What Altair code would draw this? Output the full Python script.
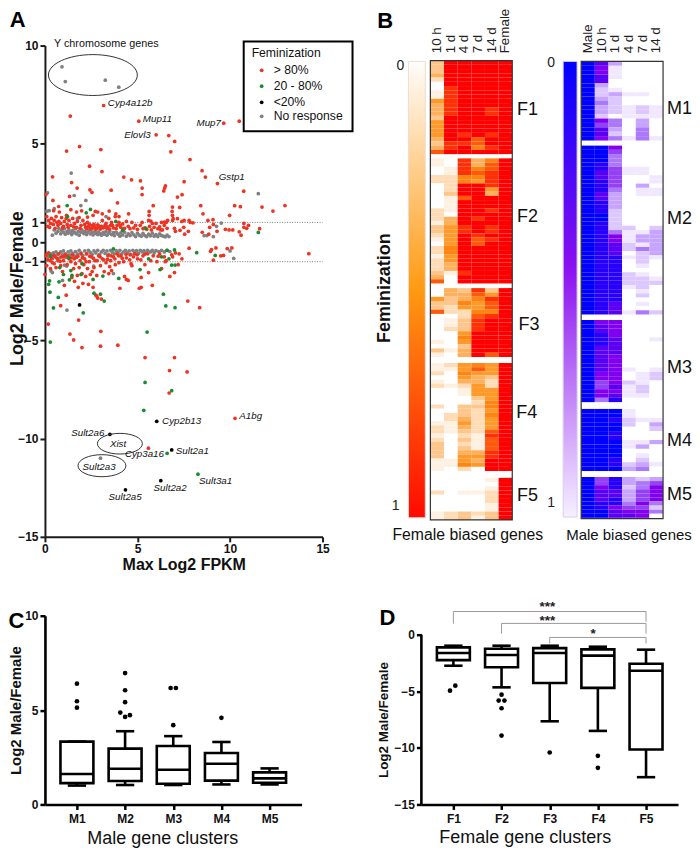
import altair as alt
import pandas as pd

FONT = "Liberation Sans"
AXC = "#1c1c1c"

# ---------- Panel A data (Max Log2 FPKM, Log2 Male/Female) ----------
gray_pts = [(0.92,8.92),(1.10,8.17),(3.26,8.24),(3.99,7.88),(1.42,3.51),(0.14,2.51),(1.58,2.37),(2.21,2.12),(1.94,1.86),(0.5,1.7),(0.1,1.57),(0.23,1.6),(11.53,2.46),(9.53,0.97),(9.27,0.8),(8.6,0.33),(8.75,0.33),(9.1,0.28),(1.75,1.2),(3.3,1.3),(1.19,-3.46),(3.0,-11.0),(0.95,-1.95),(0.33,-1.47),(0.4,-1.55),(1.05,-1.17),(1.17,-1.22),(2.63,-1.22),(3.7,-1.6),(10.2,-0.83),(10.0,-0.45),
 (0.4,0.35),(0.5,0.62),(0.6,0.45),(0.7,0.55),(0.75,0.7),(0.85,0.42),(0.9,0.6),(1.0,0.5),(1.05,0.68),(1.1,0.4),(1.2,0.55),(1.25,0.45),(1.3,0.62),(1.4,0.5),(1.45,0.38),(1.5,0.6),(1.6,0.48),(1.65,0.68),(1.7,0.42),(1.8,0.55),(1.85,0.35),(1.95,0.5),(2.0,0.62),(2.1,0.43),(2.15,0.55),(2.25,0.38),(2.3,0.5),(2.4,0.6),(2.45,0.42),(2.55,0.5),(2.6,0.36),(2.7,0.55),(2.75,0.44),(2.85,0.38),(2.9,0.52),(3.0,0.42),(3.05,0.35),(3.15,0.5),(3.2,0.4),(3.3,0.55),(3.35,0.35),(3.45,0.45),(3.5,0.55),(3.6,0.38),(3.7,0.48),(3.75,0.33),(3.85,0.5),(3.95,0.4),(4.05,0.3),(4.1,0.47),(4.2,0.36),(4.3,0.5),(4.4,0.3),(4.5,0.42),(4.6,0.33),(4.7,0.48),(4.8,0.37),(4.9,0.28),(5.0,0.45),(5.1,0.35),(5.2,0.3),(5.3,0.44),(5.4,0.33),(5.5,0.28),(5.6,0.4),(5.7,0.32),(5.8,0.45),(5.9,0.3),(6.0,0.38),(6.1,0.28),(6.2,0.42),(6.3,0.33),(6.4,0.3),(6.5,0.27),(6.6,0.35),(6.7,0.28),
 (0.2,-0.75),(0.3,-0.6),(0.4,-0.85),(0.45,-0.55),(0.55,-0.7),(0.6,-0.5),(0.7,-0.62),(0.8,-0.8),(0.85,-0.5),(0.95,-0.65),(1.0,-0.45),(1.1,-0.6),(1.15,-0.78),(1.25,-0.5),(1.35,-0.65),(1.4,-0.45),(1.5,-0.58),(1.6,-0.72),(1.65,-0.48),(1.75,-0.6),(1.85,-0.42),(1.95,-0.55),(2.05,-0.68),(2.15,-0.45),(2.25,-0.6),(2.35,-0.42),(2.45,-0.52),(2.55,-0.62),(2.65,-0.45),(2.75,-0.55),(2.85,-0.42),(2.95,-0.62),(3.05,-0.5),(3.15,-0.42),(3.25,-0.58),(3.35,-0.45),(3.45,-0.62),(3.55,-0.42),(3.65,-0.52),(3.75,-0.6),(3.85,-0.44),(3.95,-0.55),(4.05,-0.42),(4.15,-0.6),(4.25,-0.5),(4.35,-0.42),(4.45,-0.55),(4.55,-0.45),(4.65,-0.62),(4.75,-0.42),(4.85,-0.52),(4.95,-0.44),(5.05,-0.58),(5.15,-0.42),(5.25,-0.5),(5.35,-0.44),(5.45,-0.55),(5.55,-0.42),(5.7,-0.5),(5.8,-0.42),(5.9,-0.55),(6.0,-0.44),(6.15,-0.48),(6.3,-0.42),(6.45,-0.5),(6.6,-0.42),(6.75,-0.48)]

red_pts = [(3.17,6.95),(1.37,6.41),(5.07,6.15),(9.66,6.05),(10.5,6.15),(6.01,5.46),(6.69,5.42),(7.01,5.12),(1.17,4.63),(1.87,4.86),(3.02,4.71),(6.80,4.59),(7.84,4.20),(2.41,3.86),(3.08,3.59),(8.49,3.63),(8.67,3.31),(0.41,3.32),(4.26,3.31),(4.68,3.17),(5.16,3.12),(1.44,3.03),(7.52,3.07),(9.32,2.98),(1.74,2.75),(2.43,2.66),(2.54,2.53),(3.58,2.64),(5.25,2.75),(5.25,2.42),(6.51,2.86),(6.47,2.75),(6.42,2.6),(10.74,2.59),(7.41,2.41),(7.16,2.29),(0.05,2.42),(1.33,2.32),(0.43,2.12),(0.74,1.81),(3.92,2.0),(5.85,1.85),(8.42,1.85),(10.25,1.85),(10.56,1.80),(11.73,1.78),(12.97,1.86),(12.32,1.58),(6.89,1.78),(7.28,1.76),(6.87,1.56),(5.63,1.56),(8.54,1.44),(9.98,1.36),(1.71,1.53),(1.98,1.59),(1.4,1.65),(2.72,1.56),(2.85,1.53),(3.1,1.44),(3.47,1.58),(3.83,1.44),(4.0,1.3),(4.52,1.44),(0.47,1.6),(0.78,1.53),(1.17,1.36),(2.3,1.27),(2.6,1.36),(5.63,1.36),(5.72,1.07),(6.89,1.36),(6.93,1.19),(6.45,1.02),(6.63,1.1),(7.16,1.19),(7.52,1.1),(7.79,1.1),(8.81,1.1),(9.08,1.14),
 (0.1,1.3),(0.2,1.1),(0.3,0.95),(0.15,0.8),(0.35,1.2),(0.45,0.9),(0.5,1.1),(0.6,1.3),(0.55,0.7),(0.7,0.85),(0.75,1.05),(0.85,0.95),(0.9,1.25),(1.0,0.8),(1.05,1.05),(1.15,1.2),(1.2,0.9),(1.3,1.1),(1.4,0.85),(1.5,1.2),(1.6,0.95),(1.7,0.75),(1.75,1.05),(1.85,1.25),(1.95,0.85),(2.05,1.1),(2.15,0.9),(2.2,0.75),(2.3,1.0),(2.35,0.8),(2.45,0.7),(2.55,0.85),(2.6,0.72),(2.7,0.78),(2.8,0.7),(2.85,0.88),(2.95,0.72),(3.05,0.8),(3.1,1.1),(3.2,0.75),(3.3,0.95),(3.35,0.7),(3.45,1.2),(3.55,0.85),(3.6,1.0),(3.7,0.72),(3.8,1.3),(3.9,0.85),(4.0,1.0),(4.1,0.75),(4.2,0.92),(4.3,0.7),(4.4,1.05),(4.5,0.8),(4.7,1.0),(4.8,0.72),(5.0,0.65),(5.15,0.85),(5.25,1.0),(5.4,0.72),(5.5,0.65),(5.6,1.1),(5.65,0.8),(5.75,0.62),(5.9,0.75),(6.0,0.95),(6.1,0.68),(6.2,0.78),(6.3,1.0),(6.35,0.62),(6.45,0.85),(6.55,1.0),(6.6,0.7),(6.9,1.1),(7.0,0.7),(7.05,0.55),(7.3,0.6),(7.5,0.75),(7.55,0.4),(7.4,1.05),(7.75,0.55),(7.85,1.0),(8.5,0.5),(8.85,0.4),(8.9,0.75),(9.75,0.65),(9.95,0.62),(10.15,0.62),(10.5,0.52),(10.6,0.35),(10.75,0.95),(10.75,0.75),(11.0,0.85),(10.9,0.7),(11.6,0.68),(9.1,0.9),(9.3,0.55),(8.0,0.98),
 (0.25,0.75),(0.65,1.0),(0.95,0.72),(1.25,0.75),(1.55,0.78),(1.9,0.7),(2.25,0.68),(2.4,0.9),(2.5,0.66),(2.65,0.9),(2.75,0.66),(2.9,0.82),(3.0,0.66),(3.12,0.72),(3.25,0.85),(3.4,0.78),(3.5,0.66),(3.65,0.85),(3.85,0.68),(4.05,0.85),(4.25,0.66),(4.6,0.68),(4.9,0.85),(5.3,0.68),(5.8,0.95),(6.25,0.62),
 (14.26,-0.59),(7.79,-0.31),(8.95,-0.47),(9.0,-0.38),(9.24,-0.3),(9.1,-0.92),(9.5,-0.7),(9.65,-0.68),(9.85,-0.33),(10.1,-0.3),(7.25,-0.6),(7.4,-0.85),(6.9,-0.75),(7.05,-0.55),
 (0.0,-1.64),(0.05,-0.7),(0.1,-1.2),(0.15,-0.9),(0.2,-0.55),(0.3,-1.35),(0.35,-0.8),(0.4,-1.05),(0.5,-1.1),(0.55,-0.75),(0.6,-1.3),(0.7,-0.95),(0.75,-0.6),(0.85,-1.2),(0.9,-0.75),(0.95,-1.5),(1.0,-0.95),(1.05,-2.2),(1.1,-0.65),(1.2,-1.15),(1.3,-0.85),(1.4,-1.0),(1.45,-1.8),(1.5,-0.65),(1.55,-1.35),(1.6,-2.0),(1.65,-1.1),(1.7,-0.78),(1.75,-1.7),(1.8,-2.3),(1.85,-1.3),(1.9,-0.95),(1.95,-0.6),(2.0,-1.6),(2.05,-2.1),(2.1,-1.15),(2.15,-0.85),(2.2,-1.75),(2.25,-0.6),(2.3,-1.35),(2.35,-2.15),(2.4,-1.0),(2.45,-1.65),(2.5,-0.75),(2.55,-1.5),(2.6,-2.3),(2.65,-1.3),(2.7,-0.95),(2.75,-2.7),(2.8,-1.7),(2.85,-2.85),(2.9,-0.7),(3.0,-1.2),(3.05,-2.9),(3.1,-0.85),(3.2,-1.5),(3.3,-1.05),(3.4,-0.7),(3.45,-1.6),(3.5,-1.25),(3.55,-0.95),(3.6,-1.45),(3.7,-0.75),(3.8,-1.15),(3.9,-0.6),(4.0,-1.05),(4.05,-2.35),(4.1,-0.7),(4.25,-1.0),(4.3,-1.75),(4.4,-0.8),(4.4,-1.9),(4.5,-1.95),(4.6,-0.65),(4.65,-1.1),(4.7,-1.2),(4.85,-0.6),(5.0,-0.85),(5.1,-2.35),(5.2,-2.3),(5.2,-1.8),(5.3,-0.7),(5.4,-1.15),(5.55,-0.6),(5.6,-1.55),(5.8,-2.2),(5.85,-0.7),(6.05,-1.0),(6.2,-0.6),(6.3,-1.35),(6.45,-0.75),(6.55,-0.95),(6.75,-1.75),(7.0,-1.55),(7.2,-1.15),(6.85,-0.65),(6.5,-1.0),
 (0.12,-0.6),(0.28,-0.95),(0.48,-0.68),(0.65,-0.82),(0.82,-0.98),(1.02,-0.75),(1.22,-0.7),(1.42,-0.8),(1.58,-0.85),(1.78,-0.72),(2.02,-0.8),(2.22,-1.0),(2.42,-0.72),(2.62,-0.82),(2.82,-0.95),(2.98,-0.75),(3.18,-0.9),(3.38,-0.88),(3.58,-0.7),(3.78,-0.85),(3.98,-0.7),(4.18,-0.82),(4.38,-0.62),(4.58,-0.9),(4.78,-0.75),(4.98,-0.65),(5.18,-0.9),(5.38,-0.62),(5.72,-0.95),(6.12,-0.72),
 (0.18,-4.17),(1.35,-4.68),(1.55,-4.98),(3.02,-4.54),(3.0,-5.3),(2.0,-5.37),(3.94,-5.25),(1.82,-3.97),(0.85,-3.24),(7.72,-3.0),(8.36,-3.34),(5.41,-5.88),(7.0,-5.88),(6.73,-6.54),(7.68,-6.61),(6.71,-7.68),(10.27,-8.97),(5.59,-10.49),(1.15,-2.7),(2.8,-2.75)]

green_pts = [(1.2,1.86),(2.23,1.49),(2.46,1.66),(3.83,1.05),(1.22,1.3),(5.45,0.7),(4.2,0.6),(11.53,0.49),(1.3,-0.8),
 (8.2,-0.54),(9.2,-0.68),(7.0,-0.4),(6.7,-0.85),(0.2,-2.15),(0.25,-1.97),(0.27,-2.55),(0.46,-3.35),(0.72,-2.82),(0.76,-2.02),(1.32,-1.92),(1.46,-1.7),(1.95,-1.65),(2.6,-1.9),(2.65,-2.6),(3.0,-2.65),(3.2,-3.0),(2.07,-3.6),(0.29,-5.09),(5.52,-4.58),(6.4,-2.65),(6.53,-3.25),(7.03,-3.34),(5.41,-7.14),(6.85,-7.56),(5.34,-8.56),(6.6,-10.75),(8.27,-11.81),(3.99,-1.85),(3.13,-1.73),(5.14,-1.4),(6.22,-1.4),(6.85,-1.17),(7.03,-1.17),(0.3,-0.7),(0.8,-1.3),(1.0,-1.65),(2.0,-1.1),(1.4,-1.45),(3.7,-0.35),(6.6,-0.42),(6.3,-0.75),(5.6,-0.85)]

black_pts = [(1.87,-3.2),(6.04,-9.12),(3.51,-9.78),(6.85,-10.58),(6.26,-12.14),(4.35,-12.61)]

legend_names = ["> 80%", "20 - 80%", "<20%", "No response"]
legend_colors = ["#ee3322", "#1a8c2e", "#000000", "#808080"]
legend_y = [8.74, 7.93, 7.11, 6.40]

gene_labels = ["Cyp4a12b","Mup11","Elovl3","Mup7","Gstp1","A1bg","Cyp2b13","Sult2a6","Xist","Sult2a1","Cyp3a16","Sult2a3","Sult3a1","Sult2a2","Sult2a5"]
gene_x = [3.40,5.29,4.28,8.19,9.39,10.5,6.33,1.42,3.51,7.07,4.32,2.03,8.33,5.87,3.44]
gene_y = [7.06,6.25,5.44,6.05,3.30,-8.84,-9.10,-9.72,-10.28,-10.62,-10.78,-11.43,-12.14,-12.5,-12.96]

# ---------- Panel B data: digit = intensity 0..9 per time column ----------
f_cols = ["10 h","1 d","4 d","7 d","14 d","Female"]
m_cols = ["Male","10 h","1 d","4 d","7 d","14 d"]
f_palette = ["#ffffff","#fff1e2","#ffdcb6","#ffc68c","#ffb05c","#ff9a2a","#ff8412","#ff5a0c","#ff3006","#ff0000"]
m_palette = ["#ffffff","#f1e8ff","#dcc8ff","#c6a4ff","#ac78fb","#9440f5","#8200f0","#5a00f5","#2800fa","#0000ff"]
F1 = ["399999","399999","399999","499999","299999","099999","089999","189999","189999","589999","489999","489989","489989","399999","599999","599999","599999","598989","499799","388799","489689","799999"]
F2 = ["108469","108479","018679","018789","226689","226589","029989","029959","039949","017999","019999","019999","219989","209999","249899","149999","358989","358989","259899","159789","059799","269999","269999","159999","259999","249999","249999","318999","409999","709999"]
F3 = ["043839","044759","534689","336579","325579","722669","002789","013899","013899","023899","005999","006999","105999","003999","314999","104979"]
F4 = ["125659","115759","206559","005439","104429","212529","001559","001559","000359","000269","203369","003259","023269","024259","115259","214259","213279","102189","203179","302179","303179","304489","305589","115499","116599","102099"]
F5 = ["000019","000009","000019","201129","000029","000029","000019","000019","123239","123139"]
f_clusters = [F1,F2,F3,F4,F5]
f_spans = [(0,22),(23,52.4),(53.5,69.7),(71.1,96.5),(98.1,108)]
f_names = ["F1","F2","F3","F4","F5"]

M1 = ["973000","961000","961000","971000","970000","930000","921000","923110","932000","942000","932121","932121","920111","964030","954030","973040","972040","964141"]
M2 = ["996000","995000","994000","994000","984000","985110","975110","975001","985001","985030","984011","973011","973000","983000","983000","982000","992000","992000","982000","982202","984113","986133","986133","987213","987243","987023","988121","988020","988010","988000","988210","988221","988222","988120","988010","988020","988000","987010","987000","987142"]
M3 = ["966000","976000","976000","986000","987001","987000","977000","977000","976000","976000","976000","976101","966012","966012","956210","957120","966120","967110","948000"]
M4 = ["999100","999100","998211","999203","999002","998000","998000","999113","999130","999000","999010","998020","998231","999340"]
M5 = ["958323","958345","968246","977356","977356","978356","988464","986552","997664","997760"]
m_clusters = [M1,M2,M3,M4,M5]
m_spans = [(0.2,18.8),(20,59.7),(61,80.3),(81.9,96.5),(97.9,107.5)]
m_names = ["M1","M2","M3","M4","M5"]

# ---------- Panel C / D box statistics ----------
c_pos = [1,2,3,4,5]
c_lo = [1.0,1.03,1.03,1.06,1.06]
c_q1 = [1.13,1.24,1.10,1.26,1.15]
c_med = [1.61,1.89,1.84,2.16,1.38]
c_q3 = [3.33,2.96,3.10,2.73,1.70]
c_hi = [3.33,3.88,3.62,3.31,1.91]
c_out_x = [1,1,1,2,2,2,1.9,2,2.1,2.945,3.055,3,4]
c_out_y = [6.4,5.47,5.13,6.96,6.05,5.42,4.87,4.64,4.73,6.17,6.17,4.2,4.59]

d_pos = [1,2,3,4,5]
d_hi = [-0.97,-0.97,-0.97,-1.06,-1.32]
d_q3 = [-1.12,-1.24,-1.18,-1.29,-2.56]
d_med = [-1.62,-1.79,-1.62,-1.85,-3.18]
d_q1 = [-2.24,-2.88,-4.26,-4.7,-10.15]
d_lo = [-2.74,-4.65,-7.65,-8.5,-12.59]
d_out_x = [1.04,0.93,2,1.94,2.06,2,2,3,4,4]
d_out_y = [-4.5,-4.94,-5.3,-5.82,-5.82,-6.5,-8.91,-10.41,-10.7,-11.76]
br_start = [1,2,3]
br_y = [2.05,1.0,-0.24]
br_left_end = [0.97,0.1,-0.77]
br_right_end = [1.15,0.1,-0.77]
star_text = ["***","***","*"]
star_x = [2.95,2.95,3.9]
star_y = [2.49,1.25,0.09]


def ax_common(**kw):
    d = dict(labelFont=FONT, labelFontWeight="bold", labelFontSize=12, labelColor="#111",
             domainColor=AXC, domainWidth=2, tickColor=AXC, tickWidth=2, tickSize=5, labelFlush=False,
             grid=False, titleFont=FONT, titleFontWeight="bold", titleColor="#111", labelOverlap=False)
    d.update(kw)
    return alt.Axis(**d)


class Panel:
    """Scales and axes shared by every layer of one panel."""
    def __init__(self, xs, ys, xax=None, yax=None):
        self.xs, self.ys, self.xax, self.yax = xs, ys, xax, yax

    def X(self, f="x"):
        return alt.X(f"{f}:Q", scale=self.xs, axis=self.xax, title=None) if self.xax is None else alt.X(f"{f}:Q", scale=self.xs, axis=self.xax)

    def Y(self, f="y"):
        return alt.Y(f"{f}:Q", scale=self.ys, axis=self.yax, title=None) if self.yax is None else alt.Y(f"{f}:Q", scale=self.ys, axis=self.yax)

    def text(self, items, **mark):
        df = pd.DataFrame(items, columns=["x", "y", "t"])
        return alt.Chart(df).mark_text(font=FONT, **mark).encode(x=self.X(), y=self.Y(), text="t:N")


# ---------- Panel A ----------
pa = Panel(alt.Scale(domain=[0, 15], nice=False), alt.Scale(domain=[-15, 10], nice=False),
           ax_common(values=[0, 5, 10, 15], title="Max Log2 FPKM", titleFontSize=16, titleY=20),
           ax_common(values=[10, 5, 1, 0, -1, -5, -10, -15], title="Log2 Male/Female", titleFontSize=18, titleBaseline="middle", titleX=-27, titleY=243))
pts = []
for name, lst in [("No response", gray_pts), ("> 80%", red_pts), ("20 - 80%", green_pts), ("<20%", black_pts)]:
    pts += [{"x": a, "y": b, "s": name, "o": len(pts) + i} for i, (a, b) in enumerate(lst)]
pts_df = pd.DataFrame(pts)
series_color = alt.Color("s:N", scale=alt.Scale(domain=legend_names, range=legend_colors), legend=None)

dots = alt.Chart(pts_df).mark_circle(size=14, opacity=1).encode(x=pa.X(), y=pa.Y(), color=series_color, order="o:Q")
hl = alt.Chart(pd.DataFrame({"x": [0, 0], "x2": [15, 15], "y": [1, -1]})).mark_rule(
    color="#555", strokeWidth=0.8, strokeDash=[1, 1.5]).encode(x=pa.X(), x2="x2:Q", y=pa.Y())
ell_shape = "M-1,0A1,0.46,0,1,1,1,0A1,0.46,0,1,1,-1,0Z"
ell = alt.Chart(pd.DataFrame({"x": [2.59, 4.05, 3.08], "y": [8.5, -10.26, -11.38], "s": [7921, 2025, 2304]})).mark_point(
    shape=ell_shape, filled=False, stroke="#333", strokeWidth=1, opacity=1).encode(
    x=pa.X(), y=pa.Y(), size=alt.Size("s:Q", scale=None, legend=None))
lbox = alt.Chart(pd.DataFrame({"x": [10.74], "x2": [16.62], "y": [10.21], "y2": [5.64]})).mark_rect(
    fill="white", stroke="black", strokeWidth=2, opacity=1).encode(x=pa.X(), x2="x2:Q", y=pa.Y(), y2="y2:Q")
ldots = alt.Chart(pd.DataFrame({"x": [11.71] * 4, "y": legend_y, "s": legend_names})).mark_circle(size=14, opacity=1).encode(
    x=pa.X(), y=pa.Y(), color=series_color)
ltext = pa.text([(12.36, v, n) for v, n in zip(legend_y, legend_names)], align="left", baseline="middle", fontSize=12.2, color="#111")
ltitle = pa.text([(11.17, 9.6, "Feminization")], align="left", baseline="middle", fontSize=12.2, color="#111")
ychr = pa.text([(0.49, 10.06, "Y chromosome genes")], align="left", baseline="middle", fontSize=10.8, color="#111")
genes = pa.text(list(zip(gene_x, gene_y, gene_labels)), align="left", baseline="middle", fontSize=9.8, fontStyle="italic", color="#111")
a_letter = pa.text([(-1.9, 11.3, "A")], align="left", baseline="middle", fontSize=22, fontWeight="bold", color="black")
panel_a = alt.layer(hl, lbox, dots, ell, ldots, ltext, ltitle, ychr, genes, a_letter).properties(width=278, height=492)

# ---------- Panel B ----------
pb = Panel(alt.Scale(domain=[-3.95, 19.17], nice=False), alt.Scale(domain=[111.97, -3.52], nice=False))


def heat_frame(clusters, spans, x0, palette):
    rows = []
    for cl, (a, b) in zip(clusters, spans):
        h = (b - a) / len(cl)
        for i, digits in enumerate(cl):
            for j, d in enumerate(digits):
                rows.append({"x": x0 + j, "x2": x0 + j + 1, "y": a + i * h, "y2": a + (i + 1) * h, "c": palette[int(d)]})
    return pd.DataFrame(rows)


def heat(df):
    return alt.Chart(df).mark_rect(strokeWidth=0, opacity=1).encode(
        x=pb.X(), x2="x2:Q", y=pb.Y(), y2="y2:Q", color=alt.Color("c:N", scale=None, legend=None))


heat_f = heat(heat_frame(f_clusters, f_spans, 0, f_palette))
heat_m = heat(heat_frame(m_clusters, m_spans, 11.05, m_palette))
frames = alt.Chart(pd.DataFrame({"x": [0, 11.05], "x2": [6, 17.05], "y": [0, 0.2], "y2": [108, 107.7]})).mark_rect(
    fill="transparent", stroke="#333", strokeWidth=1.2).encode(x=pb.X(), x2="x2:Q", y=pb.Y(), y2="y2:Q")
grad_f = {"gradient": "linear", "x1": 0, "y1": 0, "x2": 0, "y2": 1,
          "stops": [{"offset": 0, "color": "#fffdfb"}, {"offset": 0.5, "color": "#ff9a12"}, {"offset": 1, "color": "#ff0a00"}]}
grad_m = {"gradient": "linear", "x1": 0, "y1": 0, "x2": 0, "y2": 1,
          "stops": [{"offset": 0, "color": "#0000ff"}, {"offset": 0.45, "color": "#8a10f0"}, {"offset": 1, "color": "#f6f0ff"}]}
bar_f = alt.Chart(pd.DataFrame({"x": [-1.61], "x2": [-0.37], "y": [0.2], "y2": [107.5]})).mark_rect(
    fill=grad_f, stroke="#e9ddd6", strokeWidth=1, opacity=1).encode(x=pb.X(), x2="x2:Q", y=pb.Y(), y2="y2:Q")
bar_m = alt.Chart(pd.DataFrame({"x": [9.73], "x2": [10.75], "y": [0.2], "y2": [107.3]})).mark_rect(
    fill=grad_m, stroke="#d8ccf4", strokeWidth=1, opacity=1).encode(x=pb.X(), x2="x2:Q", y=pb.Y(), y2="y2:Q")
collab = pb.text([(i + 0.5, -1.7, c) for i, c in enumerate(f_cols)] + [(11.05 + i + 0.5, -1.7, c) for i, c in enumerate(m_cols)],
                 angle=270, align="left", baseline="middle", fontSize=13.4, color="#222")
flab = pb.text(list(zip([6.35, 6.35, 6.45, 6.3, 6.35], [11.7, 36.8, 62.2, 82.9, 102.3], f_names)) +
               list(zip([17.34, 17.34, 17.34, 17.34, 17.34], [11.3, 37.3, 72.3, 89.4, 102.1], m_names)),
               align="left", baseline="middle", fontSize=18, color="#111")
zeros = pb.text([(-2.2, 1.2, "0"), (-2.55, 104.7, "1"), (8.85, 0.5, "0"), (8.85, 104, "1")],
                align="center", baseline="middle", fontSize=14, color="#222")
fem = pb.text([(-3.3, 53.5, "Feminization")], angle=270, align="center", baseline="middle", fontSize=18, fontWeight="bold", color="#111")
blab = pb.text([(-2.78, 111.5, "Female biased genes")], align="left", baseline="middle", fontSize=15.8, color="#111")
blab2 = pb.text([(9.95, 111.5, "Male biased genes")], align="left", baseline="middle", fontSize=15, color="#111")
b_letter = pb.text([(-3.9, -9.4, "B")], align="left", baseline="middle", fontSize=22, fontWeight="bold", color="black")
panel_b = alt.layer(bar_f, bar_m, heat_f, heat_m, frames, collab, flab, zeros, fem, blab, blab2, b_letter).properties(width=316, height=492)


# ---------- Panels C and D ----------
def box_layers(p, pos, lo, q1, med, q3, hi, ox, oy):
    s = pd.DataFrame({"p": pos, "lo": lo, "q1": q1, "med": med, "q3": q3, "hi": hi})
    s["xl"] = s.p - 0.342
    s["xr"] = s.p + 0.342
    s["cl"] = s.p - 0.19
    s["cr"] = s.p + 0.19
    b = alt.Chart(s)
    rule = dict(color="black", strokeWidth=2.6)
    whisk = b.mark_rule(**rule).encode(x=p.X("p"), y=p.Y("lo"), y2="hi:Q")
    cap1 = b.mark_rule(**rule).encode(x=p.X("cl"), x2="cr:Q", y=p.Y("lo"))
    cap2 = b.mark_rule(**rule).encode(x=p.X("cl"), x2="cr:Q", y=p.Y("hi"))
    box = b.mark_rect(fill="white", stroke="black", strokeWidth=2.6, opacity=1).encode(x=p.X("xl"), x2="xr:Q", y=p.Y("q1"), y2="q3:Q")
    medl = b.mark_rule(**rule).encode(x=p.X("xl"), x2="xr:Q", y=p.Y("med"))
    out = alt.Chart(pd.DataFrame({"x": ox, "y": oy})).mark_circle(size=22, color="black", opacity=1).encode(x=p.X(), y=p.Y())
    return [whisk, cap1, cap2, box, medl, out]


pc = Panel(alt.Scale(domain=[0.336, 5.664], nice=False), alt.Scale(domain=[0, 10], nice=False),
           ax_common(values=c_pos, labelExpr="'M' + datum.value", domainWidth=2.6, domainColor="black", title="Male gene clusters", titleFontSize=18, titleFontWeight="normal", titleX=117.5, titleY=25, labelPadding=4, tickWidth=2.5, tickColor="black"),
           ax_common(values=[0, 5, 10], title="Log2 Male/Female", titleFontSize=15, titleBaseline="middle", titleX=-29.5, domainWidth=2.6, domainColor="black", tickWidth=2.5, tickColor="black"))
c_letter = pc.text([(-0.42, 9.74, "C")], align="left", baseline="middle", fontSize=22, fontWeight="bold", color="black")
panel_c = alt.layer(*box_layers(pc, c_pos, c_lo, c_q1, c_med, c_q3, c_hi, c_out_x, c_out_y), c_letter).properties(width=257, height=189)

pd_ = Panel(alt.Scale(domain=[0.336, 5.664], nice=False), alt.Scale(domain=[-15, 1.68], nice=False),
            ax_common(values=d_pos, labelExpr="'F' + datum.value", title="Female gene clusters", titleFontSize=18, titleFontWeight="normal", titleX=103.5, titleY=24, labelPadding=4, domainWidth=2.6, domainColor="black", tickWidth=2.5, tickColor="black"),
            ax_common(values=[0, -5, -10, -15], domain=False, title="Log2 Male/Female", titleFontSize=13.5, titleBaseline="middle", titleX=-38, titleY=104, tickWidth=2.5, tickColor="black"))
d_spine = alt.Chart(pd.DataFrame({"x": [0.336], "y": [-15], "y2": [0]})).mark_rule(color="black", strokeWidth=2.6).encode(x=pd_.X(), y=pd_.Y(), y2="y2:Q")
br = pd.DataFrame({"s": br_start, "e": [5, 5, 5], "y": br_y, "l": br_left_end, "r": br_right_end})
gr = dict(color="#9a9a9a", strokeWidth=1)
br_h = alt.Chart(br).mark_rule(**gr).encode(x=pd_.X("s"), x2="e:Q", y=pd_.Y("y"))
br_l = alt.Chart(br).mark_rule(**gr).encode(x=pd_.X("s"), y=pd_.Y("y"), y2="l:Q")
br_r = alt.Chart(br).mark_rule(**gr).encode(x=pd_.X("e"), y=pd_.Y("y"), y2="r:Q")
stars = pd_.text(list(zip(star_x, star_y, star_text)), align="center", baseline="middle", fontSize=13.5, fontWeight="bold", color="#222")
d_letter = pd_.text([(-0.535, 1.5, "D")], align="left", baseline="middle", fontSize=22, fontWeight="bold", color="black")
panel_d = alt.layer(d_spine, br_h, br_l, br_r, *box_layers(pd_, d_pos, d_lo, d_q1, d_med, d_q3, d_hi, d_out_x, d_out_y), stars, d_letter).properties(width=257, height=189)

top = alt.hconcat(panel_a, panel_b, spacing=54, bounds="flush")
bottom = alt.hconcat(panel_c, panel_d, spacing=120, bounds="flush")
chart = alt.vconcat(top, bottom, spacing=26).properties(padding=0).configure_view(stroke=None)
chart.save("out.html", embed_options={"renderer": "svg", "actions": False})
